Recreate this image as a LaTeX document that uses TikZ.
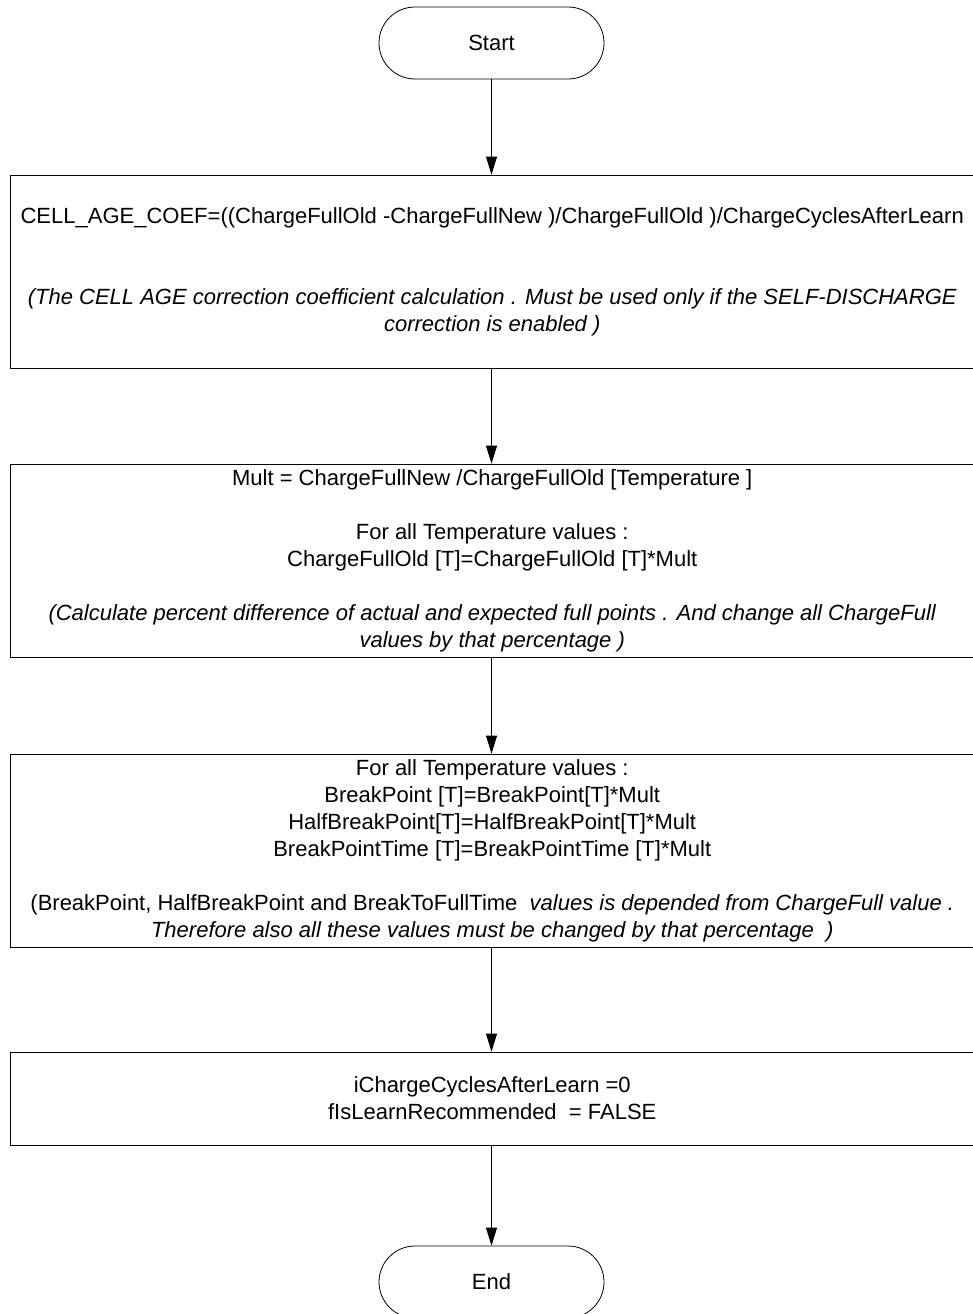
\documentclass[tikz,border=0pt]{standalone}
\usepackage{fontspec}
\setmainfont{Liberation Sans}
\usetikzlibrary{arrows.meta}
\begin{document}
\begin{tikzpicture}[x=1pt,y=-1pt,
  every node/.style={font=\fontsize{22}{27}\selectfont},
  term/.style={draw=black,line width=0.8pt,rounded corners=36pt,minimum width=225pt,minimum height=72pt,inner sep=0pt},
  procbox/.style={draw=black,line width=0.8pt,minimum width=963.5pt,inner sep=0pt,align=center},
  arr/.style={draw=black,line width=0.8pt,-{Triangle[length=18pt,width=11pt]}}
]
\useasboundingbox (0,0) rectangle (972,1314);
\node[term] (start) at (491.5,43) {Start};
\node[procbox,minimum height=193pt] (b1) at (492.25,271.5) {CELL\_AGE\_COEF=((ChargeFullOld -ChargeFullNew )/ChargeFullOld )/ChargeCyclesAfterLearn\\[54pt]
\itshape (The CELL AGE correction coefficient calculation . Must be used only if the SELF-DISCHARGE\\ \itshape correction is enabled )};
\node[procbox,minimum height=193pt] (b2) at (492.25,560.5) {Mult = ChargeFullNew /ChargeFullOld [Temperature ]\\[27pt]
For all Temperature values :\\
ChargeFullOld [T]=ChargeFullOld [T]*Mult\\[27pt]
\itshape (Calculate percent difference of actual and expected full points . And change all ChargeFull\\ \itshape values by that percentage )};
\node[procbox,minimum height=193pt] (b3) at (492.25,850.5) {For all Temperature values :\\
BreakPoint [T]=BreakPoint[T]*Mult\\
HalfBreakPoint[T]=HalfBreakPoint[T]*Mult\\
BreakPointTime [T]=BreakPointTime [T]*Mult\\[27pt]
(BreakPoint, HalfBreakPoint and BreakToFullTime \ \textit{values is depended from ChargeFull value .}\\
\itshape Therefore also all these values must be changed by that percentage \ )};
\node[procbox,minimum height=93pt] (b4) at (492.25,1098.5) {iChargeCyclesAfterLearn =0\\
fIsLearnRecommended \ = FALSE};
\node[term] (end) at (491.5,1282) {End};
\draw[arr] (start.south) -- (start.south |- b1.north);
\draw[arr] (start.south |- b1.south) -- (start.south |- b2.north);
\draw[arr] (start.south |- b2.south) -- (start.south |- b3.north);
\draw[arr] (start.south |- b3.south) -- (start.south |- b4.north);
\draw[arr] (start.south |- b4.south) -- (end.north);
\end{tikzpicture}
\end{document}
